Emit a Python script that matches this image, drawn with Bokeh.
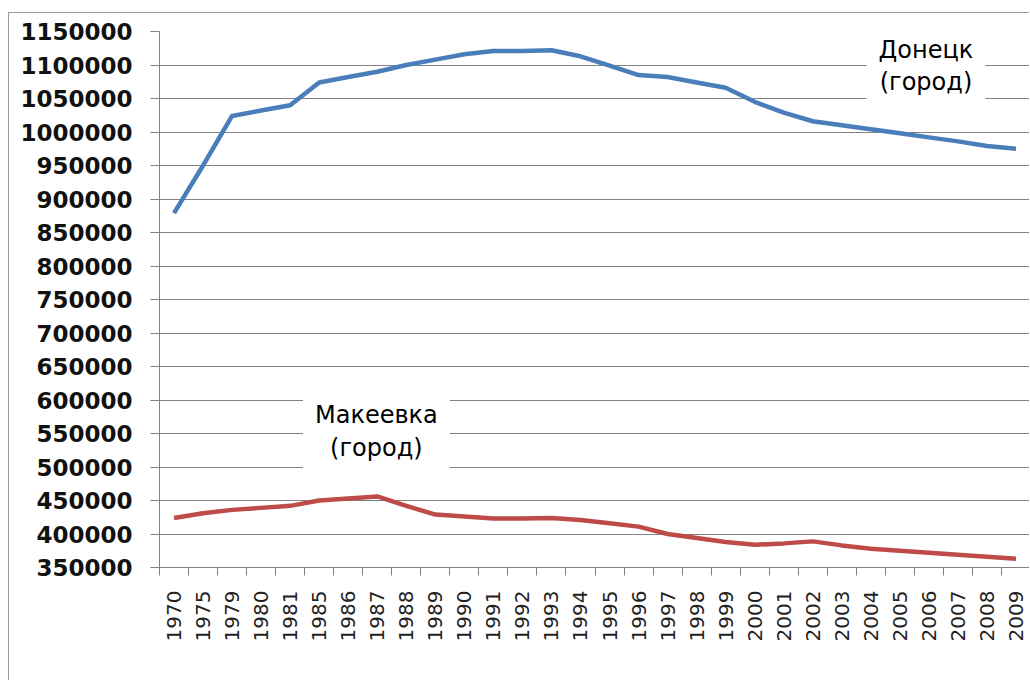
import math
from bokeh.plotting import figure
from bokeh.models import (Range1d, FixedTicker, NumeralTickFormatter, Label,
                          CustomJSTickFormatter, ColumnDataSource)
from bokeh.embed import file_html
from bokeh.resources import INLINE

years = ["1970", "1975", "1979", "1980", "1981", "1985", "1986", "1987", "1988", "1989",
         "1990", "1991", "1992", "1993", "1994", "1995", "1996", "1997", "1998", "1999",
         "2000", "2001", "2002", "2003", "2004", "2005", "2006", "2007", "2008", "2009"]

donetsk = [879000, 950000, 1024000, 1032000, 1040000, 1074000, 1082000, 1090000, 1100000, 1108000,
           1116000, 1121000, 1121000, 1122000, 1113000, 1099000, 1085000, 1082000, 1074000, 1066000,
           1045000, 1029000, 1016000, 1010000, 1004000, 998000, 992000, 986000, 979000, 975000]

makeevka = [424000, 431000, 436000, 439000, 442000, 450000, 453000, 456000, 442000, 429000,
            426000, 423000, 423000, 424000, 421000, 416000, 411000, 400000, 394000, 388000,
            384000, 386000, 389000, 383000, 378000, 375000, 372000, 369000, 366000, 363000]

y_ticks = [350000, 400000, 450000, 500000, 550000, 600000, 650000, 700000, 750000, 800000,
           850000, 900000, 950000, 1000000, 1050000, 1100000, 1150000]

label_donetsk = "Донецк\n(город)"
label_makeevka = "Макеевка\n(город)"

GRID = "#828282"
FONT = "DejaVu Sans"

n = len(years)
centers = [i + 0.5 for i in range(n)]          # category slots
bounds = [i for i in range(n + 1)]              # category boundaries

src = ColumnDataSource(dict(x=centers, year=years, donetsk=donetsk, makeevka=makeevka))

p = figure(width=1021, height=668, output_backend="svg", toolbar_location=None,
           x_range=Range1d(0, n), y_range=Range1d(y_ticks[0], y_ticks[-1]),
           min_border_left=150, min_border_top=18, min_border_bottom=114, min_border_right=0)
p.styles = {"border-left": "1px solid #9a9a9a", "border-top": "1px solid #9a9a9a",
            "margin-top": "12px", "margin-left": "8px"}
p.outline_line_color = None
p.background_fill_color = "white"
p.border_fill_color = "white"

xax = p.xaxis[0]
xax.ticker = FixedTicker(ticks=centers, minor_ticks=bounds)
xax.formatter = CustomJSTickFormatter(args=dict(years=years),
                                      code="return years[Math.floor(tick)];")
xax.axis_line_color = GRID
xax.major_tick_line_color = None
xax.minor_tick_line_color = GRID
xax.minor_tick_out = 8
xax.minor_tick_in = 0
xax.major_tick_out = 8
xax.major_tick_in = 0
xax.major_label_orientation = math.pi / 2
xax.major_label_standoff = 15
xax.major_label_text_font = FONT
xax.major_label_text_font_size = "20px"
xax.major_label_text_color = "#222222"

yax = p.yaxis[0]
yax.ticker = FixedTicker(ticks=y_ticks)
yax.formatter = NumeralTickFormatter(format="0")
yax.axis_line_color = GRID
yax.major_tick_line_color = GRID
yax.major_tick_out = 9
yax.major_tick_in = 0
yax.minor_tick_line_color = None
yax.major_label_standoff = 18
yax.major_label_text_font = FONT
yax.major_label_text_font_style = "bold"
yax.major_label_text_font_size = "23px"
yax.major_label_text_color = "#111111"

p.xgrid.grid_line_color = None
p.ygrid.grid_line_color = GRID
p.ygrid.grid_line_width = 1.2

p.line("x", "donetsk", source=src, line_color="#4A7EBB", line_width=4.5, line_join="round")
p.line("x", "makeevka", source=src, line_color="#BE4B48", line_width=4.5, line_join="round")

for txt, xx, yy in [(label_donetsk, 26.4, 1099000), (label_makeevka, 7.47, 553000)]:
    p.add_layout(Label(x=xx, y=yy, text=txt, text_align="center", text_baseline="middle",
                       text_font=FONT, text_font_size="24px", text_line_height=1.15,
                       text_color="#000000",
                       background_fill_color="white", padding=12))

open("out.html", "w").write(file_html(p, INLINE))
